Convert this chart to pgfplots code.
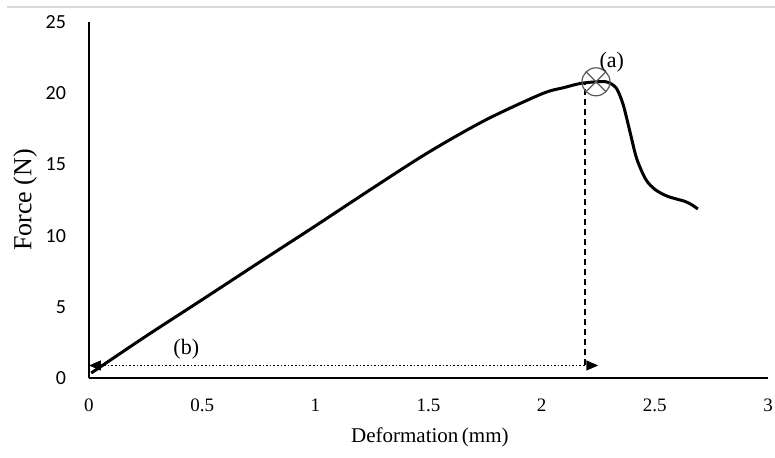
\documentclass[border=0pt]{standalone}
\usepackage{fontspec}
\setmainfont{Liberation Serif}
\newfontfamily\carlito{Carlito}
\usepackage{pgfplots}
\pgfplotsset{compat=1.18}
\usetikzlibrary{arrows.meta}

\begin{document}
\begin{tikzpicture}
  \useasboundingbox (-44.5pt,-39.5pt) rectangle (343pt,189pt);
  \draw[gray!30, line width=1pt] (-41pt,185.5pt) -- (343pt,185.5pt);
  \begin{axis}[
    scale only axis, width=339.5pt, height=178pt,
    xmin=0, xmax=3, ymin=0, ymax=25,
    axis lines=left, axis line style={-, line width=1pt},
    xtick={0,0.5,...,3}, ytick={0,5,...,25},
    major tick length=0pt,
    /pgf/number format/assume math mode=true,
    xticklabel style={font=\fontsize{9.5}{11}\selectfont, yshift=-7pt},
    yticklabel style={font=\carlito\fontsize{10}{12}\selectfont, xshift=-8pt},
    xlabel={Deformation\,(mm)}, ylabel={Force (N)},
    xlabel style={font=\fontsize{10.5}{12}\selectfont, at={(axis description cs:0.502,-0.166)}, anchor=center},
    ylabel style={font=\fontsize{13}{15}\selectfont, at={(axis description cs:-0.094,0.5)}, anchor=center},
    clip=false,
  ]
    \addplot[black, line width=1.5pt, smooth] coordinates {
      (0.01,0.35) (0.25,2.92) (0.5,5.5) (0.75,8.1) (1.0,10.68)
      (1.25,13.3) (1.5,15.85) (1.75,18.1) (2.0,19.95) (2.1,20.4)
      (2.17,20.68) (2.24,20.8) (2.29,20.78) (2.33,20.35) (2.36,19.2)
      (2.39,17.3) (2.42,15.4) (2.46,13.95) (2.5,13.25) (2.55,12.8)
      (2.6,12.55) (2.63,12.42) (2.66,12.2) (2.69,11.87)
    };
    % dashed drop line from the peak
    \addplot[black, line width=1pt, dash pattern=on 3pt off 2pt] coordinates {(2.19,0.88) (2.19,20.75)};
    \draw[black, line width=0.8pt, densely dotted,
      {Triangle[length=6pt,width=5pt]}-{Triangle[length=6pt,width=5pt]}]
      (axis cs:0,0.88) -- (axis cs:2.25,0.88);
    % peak marker
    \draw[gray!70!black, line width=0.6pt] (axis cs:2.24,20.8) circle[radius=7pt];
    \draw[gray!70!black, line width=0.6pt] (axis cs:2.24,20.8)
      +(-4.95pt,-4.95pt) -- +(4.95pt,4.95pt) +(-4.95pt,4.95pt) -- +(4.95pt,-4.95pt);
    \node[font=\fontsize{11}{13}\selectfont] at (axis cs:2.31,22.2) {(a)};
    \node[font=\fontsize{11}{13}\selectfont] at (axis cs:0.43,2.0) {(b)};
  \end{axis}
\end{tikzpicture}
\end{document}
